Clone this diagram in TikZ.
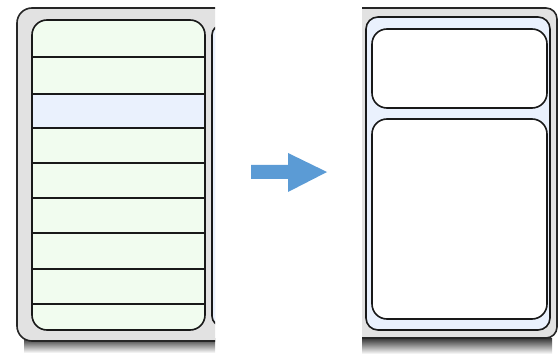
\documentclass[tikz,border=0pt]{standalone}
\usetikzlibrary{arrows}
\definecolor{framegray}{HTML}{E2E2E2}
\definecolor{rowgreen}{HTML}{F1FCEF}
\definecolor{rowblue}{HTML}{EAF1FD}
\definecolor{arrowblue}{HTML}{5B9BD5}
\tikzset{frame/.style = {draw=black!85,fill=framegray,line width=1.6pt,rounded corners=15pt}}
\tikzset{listbox/.style = {draw=black!90,line width=1.6pt,rounded corners=15pt}}
\tikzset{sep/.style = {draw=black!90,line width=1.5pt}}
\tikzset{shadowbar/.style = {top color=black!80,bottom color=white}}

\begin{document}
\begin{tikzpicture}[x=1pt,y=1pt]
\useasboundingbox (0,0) rectangle (559,356);

% left panel
\begin{scope}
\clip (0,0) rectangle (215,356);
\shade[shadowbar] (24,3) rectangle (260,18);
\draw[frame] (17,348) rectangle (260,15);
\fill[rowgreen,rounded corners=15pt] (32,336) rectangle (205,26);
\fill[rowblue] (32,262) rectangle (205,228);
\foreach \y in {299,262,228,193,158,123,87,52}
  \draw[sep] (32,\y) -- (205,\y);
\draw[listbox] (32,336) rectangle (205,26);
\draw[listbox,fill=rowblue,rounded corners=10pt] (212,331) rectangle (300,30);
\end{scope}

% arrow
\fill[arrowblue] (251,191) -- (288,191) -- (288,203) -- (327,184)
  -- (288,164) -- (288,177) -- (251,177) -- cycle;

% right panel
\begin{scope}
\clip (362,0) rectangle (559,356);
\shade[shadowbar] (330,2) rectangle (552,18);
\draw[frame,rounded corners=11pt] (330,348) rectangle (557,18);
\draw[listbox,fill=rowblue,rounded corners=12pt] (366,339) rectangle (550,26);
\draw[listbox,fill=white] (372,327) rectangle (547,248);
\draw[listbox,fill=white] (372,237) rectangle (547,37);
\end{scope}
\end{tikzpicture}
\end{document}
